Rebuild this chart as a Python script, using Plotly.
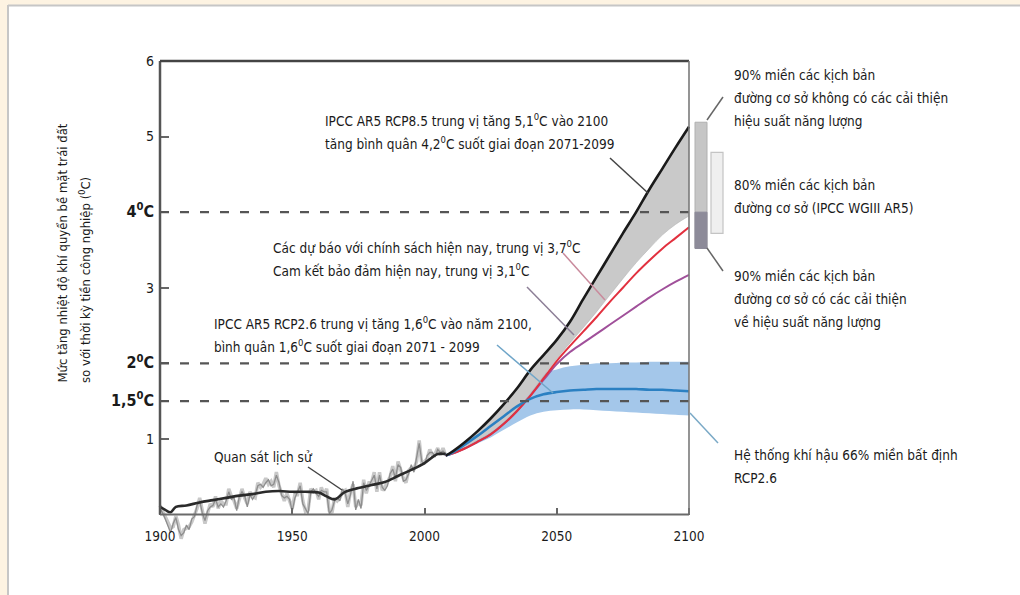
import plotly.graph_objects as go

FONT = "DejaVu Sans Condensed, DejaVu Sans, sans-serif"

# ---------------- data ----------------
hist_years = list(range(1900, 2009))
obs_a = [
    0.08, 0.02, -0.06, -0.14, -0.24, -0.12, -0.04, -0.20, -0.28, -0.24,
    -0.14, -0.20, -0.06, -0.03, 0.12, 0.18, 0.02, -0.08, 0.05, 0.10,
    0.12, 0.20, 0.10, 0.14, 0.10, 0.18, 0.30, 0.20, 0.22, 0.05,
    0.24, 0.30, 0.25, 0.10, 0.26, 0.20, 0.26, 0.38, 0.40, 0.36,
    0.42, 0.46, 0.38, 0.40, 0.52, 0.42, 0.25, 0.22, 0.24, 0.20,
    0.04, 0.22, 0.30, 0.38, 0.14, 0.08, 0.01, 0.30, 0.34, 0.28,
    0.24, 0.32, 0.30, 0.30, 0.01, 0.06, 0.18, 0.22, 0.18, 0.34,
    0.28, 0.14, 0.26, 0.44, 0.06, 0.20, 0.08, 0.42, 0.32, 0.38,
    0.46, 0.52, 0.34, 0.52, 0.36, 0.32, 0.38, 0.54, 0.60, 0.48,
    0.66, 0.62, 0.44, 0.46, 0.54, 0.66, 0.56, 0.74, 0.94, 0.70,
    0.66, 0.78, 0.82, 0.82, 0.76, 0.86, 0.82, 0.84, 0.80,
]
obs_b = [
    0.12, 0.05, -0.02, -0.10, -0.18, -0.16, -0.02, -0.14, -0.32, -0.20,
    -0.18, -0.16, -0.10, 0.00, 0.08, 0.22, 0.05, -0.12, 0.02, 0.14,
    0.10, 0.24, 0.08, 0.18, 0.14, 0.14, 0.34, 0.24, 0.18, 0.08,
    0.20, 0.34, 0.22, 0.14, 0.30, 0.24, 0.22, 0.42, 0.36, 0.40,
    0.48, 0.40, 0.44, 0.36, 0.56, 0.38, 0.28, 0.18, 0.28, 0.16,
    0.08, 0.26, 0.26, 0.42, 0.18, 0.04, 0.06, 0.34, 0.30, 0.32,
    0.20, 0.36, 0.26, 0.34, 0.05, 0.02, 0.22, 0.18, 0.22, 0.30,
    0.32, 0.10, 0.30, 0.40, 0.10, 0.16, 0.12, 0.46, 0.28, 0.42,
    0.42, 0.56, 0.30, 0.56, 0.32, 0.36, 0.42, 0.50, 0.64, 0.44,
    0.70, 0.58, 0.48, 0.42, 0.58, 0.62, 0.60, 0.70, 0.98, 0.66,
    0.70, 0.74, 0.86, 0.78, 0.80, 0.88, 0.78, 0.88, 0.78,
]
smooth_years = [1900, 1902, 1904, 1906, 1910, 1915, 1920, 1925, 1930, 1935, 1940, 1945,
                1950, 1955, 1960, 1963, 1966, 1970, 1975, 1980, 1985, 1990, 1995, 2000,
                2005, 2008]
smooth_vals = [0.10, 0.06, 0.03, 0.10, 0.12, 0.16, 0.19, 0.22, 0.25, 0.27, 0.30, 0.31,
               0.30, 0.30, 0.29, 0.24, 0.20, 0.30, 0.35, 0.39, 0.43, 0.51, 0.59, 0.68,
               0.80, 0.80]

proj_years = [2008, 2010, 2015, 2020, 2025, 2030, 2035, 2040, 2045, 2050,
              2055, 2060, 2065, 2070, 2075, 2080, 2085, 2090, 2095, 2100]
rcp85_median = [0.78, 0.82, 0.95, 1.10, 1.27, 1.46, 1.67, 1.91, 2.11, 2.31,
                2.55, 2.85, 3.14, 3.43, 3.72, 4.00, 4.30, 4.58, 4.86, 5.13]
rcp85_band_low = [0.78, 0.80, 0.88, 0.98, 1.08, 1.22, 1.39, 1.60, 1.83, 2.06,
                  2.27, 2.47, 2.68, 2.90, 3.12, 3.33, 3.52, 3.70, 3.84, 3.95]
current_policy = [0.78, 0.80, 0.87, 0.96, 1.06, 1.20, 1.37, 1.57, 1.80, 2.03,
                  2.23, 2.42, 2.61, 2.81, 3.00, 3.19, 3.36, 3.52, 3.66, 3.80]
pledges = [0.78, 0.80, 0.87, 0.96, 1.06, 1.20, 1.37, 1.57, 1.78, 1.99,
           2.15, 2.27, 2.39, 2.51, 2.63, 2.75, 2.87, 2.98, 3.08, 3.17]
rcp26_median = [0.78, 0.81, 0.92, 1.04, 1.17, 1.30, 1.43, 1.53, 1.59, 1.62,
                1.64, 1.65, 1.66, 1.66, 1.66, 1.66, 1.65, 1.65, 1.64, 1.63]
rcp26_upper = [0.78, 0.82, 0.96, 1.10, 1.26, 1.44, 1.62, 1.78, 1.87, 1.92,
               1.96, 1.98, 2.00, 2.00, 2.01, 2.01, 2.02, 2.02, 2.02, 2.02]
rcp26_lower = [0.78, 0.79, 0.86, 0.94, 1.02, 1.12, 1.22, 1.31, 1.36, 1.38,
               1.39, 1.39, 1.38, 1.37, 1.36, 1.35, 1.34, 1.33, 1.32, 1.31]

x_ticks = [1900, 1950, 2000, 2050, 2100]
y_ticks = [1, 1.5, 2, 3, 4, 5, 6]
threshold_levels = [4, 2, 1.5]
baseline_no_eff = [3.52, 5.19]   # 90% range, no efficiency improvements
baseline_eff = [3.52, 4.00]      # 90% range, with efficiency improvements
baseline_wg3 = [3.72, 4.79]      # 80% range IPCC WGIII AR5


def big(s):
    return "<span style='font-size:16px'><b>" + s + "</b></span>"


y_ticktext = ["1", big("1,5<sup>0</sup>C"), big("2<sup>0</sup>C"), "3",
              big("4<sup>0</sup>C"), "5", "6"]

# ---------------- geometry (pixel mapping) ----------------
W, H = 1020, 595
PX_1900, PX_2100 = 160, 689
PY_0, PY_6 = 514.5, 61
PXY = (PX_2100 - PX_1900) / 200.0
PYD = (PY_0 - PY_6) / 6.0
PL, PR, PT, PB = 154, 1012, 56, 556


def dx(px):
    return 1900 + (px - PX_1900) / PXY


def dy(py):
    return (PY_0 - py) / PYD


def paper_x(px):
    return (px - PL) / (PR - PL)


def paper_y(py):
    return (PB - py) / (PB - PT)


fig = go.Figure()

# historical observations
fig.add_trace(go.Scatter(x=hist_years, y=obs_b, mode="lines",
                         line=dict(color="#c8c8c8", width=3.5), hoverinfo="skip"))
fig.add_trace(go.Scatter(x=hist_years, y=obs_a, mode="lines",
                         line=dict(color="#8e8e8e", width=1.3), hoverinfo="skip"))
fig.add_trace(go.Scatter(x=smooth_years, y=smooth_vals, mode="lines",
                         line=dict(color="#2a2a2a", width=2.6, shape="spline"),
                         hoverinfo="skip"))

# RCP2.6 band
fig.add_trace(go.Scatter(x=proj_years, y=rcp26_lower, mode="lines",
                         line=dict(width=0, shape="spline"), hoverinfo="skip"))
fig.add_trace(go.Scatter(x=proj_years, y=rcp26_upper, mode="lines", fill="tonexty",
                         fillcolor="#a4c7ea", line=dict(width=0, shape="spline"),
                         hoverinfo="skip"))
# RCP8.5 grey band
fig.add_trace(go.Scatter(x=proj_years, y=rcp85_band_low, mode="lines",
                         line=dict(width=0.6, color="#b4b4b4", shape="spline"),
                         hoverinfo="skip"))
fig.add_trace(go.Scatter(x=proj_years, y=rcp85_median, mode="lines", fill="tonexty",
                         fillcolor="#c9c9c9", line=dict(width=0, shape="spline"),
                         hoverinfo="skip"))
# lines
fig.add_trace(go.Scatter(x=proj_years, y=pledges, mode="lines",
                         line=dict(color="#a0509a", width=2, shape="spline"), hoverinfo="skip"))
fig.add_trace(go.Scatter(x=proj_years, y=current_policy, mode="lines",
                         line=dict(color="#e2313f", width=2, shape="spline"), hoverinfo="skip"))
fig.add_trace(go.Scatter(x=proj_years, y=rcp26_median, mode="lines",
                         line=dict(color="#2b80c2", width=2.6, shape="spline"), hoverinfo="skip"))
fig.add_trace(go.Scatter(x=proj_years, y=rcp85_median, mode="lines",
                         line=dict(color="#1a1a1a", width=2.6, shape="spline"), hoverinfo="skip"))

shapes = []
# background: cream page with white card
shapes.append(dict(type="rect", xref="paper", yref="paper", layer="below",
                   x0=paper_x(8), x1=paper_x(1020), y0=paper_y(595), y1=paper_y(5),
                   fillcolor="white", line=dict(width=0)))
shapes.append(dict(type="line", xref="paper", yref="paper", layer="below",
                   x0=paper_x(8), x1=paper_x(1020), y0=paper_y(5.5), y1=paper_y(5.5),
                   line=dict(color="#c6c6c6", width=2)))
shapes.append(dict(type="line", xref="paper", yref="paper", layer="below",
                   x0=paper_x(8), x1=paper_x(8), y0=paper_y(595), y1=paper_y(5),
                   line=dict(color="#c6c6c6", width=2)))

# threshold dashed lines
for lv in threshold_levels:
    shapes.append(dict(type="line", xref="x", yref="y", x0=1900, x1=2100, y0=lv, y1=lv,
                       line=dict(color="#555555", width=2.2, dash="9px,11px"),
                       layer="above"))
# frame
shapes.append(dict(type="line", xref="x", yref="y", x0=1900, x1=1900, y0=0, y1=6,
                   line=dict(color="#555555", width=2.5), layer="above"))
shapes.append(dict(type="line", xref="x", yref="y", x0=1900, x1=2100, y0=6, y1=6,
                   line=dict(color="#444444", width=2.5), layer="above"))
shapes.append(dict(type="line", xref="x", yref="y", x0=2100, x1=2100, y0=0, y1=6,
                   line=dict(color="#7a7a7a", width=1.6), layer="above"))
shapes.append(dict(type="line", xref="x", yref="y", x0=1900, x1=2100, y0=0, y1=0,
                   line=dict(color="#6a6a6a", width=2), layer="above"))

# baseline range bars on the right
shapes.append(dict(type="rect", xref="x", yref="y", x0=dx(695), x1=dx(707),
                   y0=baseline_no_eff[0], y1=baseline_no_eff[1],
                   fillcolor="#c6c6c6", line=dict(color="#b0b0b0", width=1)))
shapes.append(dict(type="rect", xref="x", yref="y", x0=dx(695), x1=dx(707),
                   y0=baseline_eff[0], y1=baseline_eff[1],
                   fillcolor="#8d8b99", line=dict(color="#8d8b99", width=1)))
shapes.append(dict(type="rect", xref="x", yref="y", x0=dx(711), x1=dx(723),
                   y0=baseline_wg3[0], y1=baseline_wg3[1],
                   fillcolor="#efefef", line=dict(color="#c4c4c4", width=1.2)))

# leader lines
leaders = [
    ((610, 158), (648, 193), "#444444"),
    ((563, 253), (605, 300), "#c98a9c"),
    ((527, 287), (574, 335), "#8c7e96"),
    ((497, 345), (553, 393), "#6fa5c8"),
    ((308, 467), (342, 490), "#444444"),
    ((707, 120), (723, 97), "#666666"),
    ((707, 248), (723, 271), "#666666"),
    ((690, 413), (718, 443), "#7aa9c6"),
]
for (a, b, c) in leaders:
    shapes.append(dict(type="line", xref="x", yref="y", x0=dx(a[0]), y0=dy(a[1]),
                       x1=dx(b[0]), y1=dy(b[1]), line=dict(color=c, width=1.5),
                       layer="above"))

annotations = []
TXT = dict(family=FONT, size=13.5, color="#1a1a1a")


def block(px, py, lines, step=23):
    for i, s in enumerate(lines):
        annotations.append(dict(xref="x", yref="y", x=dx(px), y=dy(py + i * step),
                                text=s, showarrow=False, xanchor="left",
                                yanchor="middle", font=TXT))


block(323, 120, ["IPCC AR5 RCP8.5 trung vị tăng 5,1<sup>0</sup>C vào 2100",
                 "tăng bình quân 4,2<sup>0</sup>C suốt giai đoạn 2071-2099"])
block(271, 247, ["Các dự báo với chính sách hiện nay, trung vị 3,7<sup>0</sup>C",
                 "Cam kết bảo đảm hiện nay, trung vị 3,1<sup>0</sup>C"])
block(212, 323, ["IPCC AR5 RCP2.6 trung vị tăng 1,6<sup>0</sup>C vào năm 2100,",
                 "bình quân 1,6<sup>0</sup>C suốt giai đoạn 2071 - 2099"])
block(212, 457, ["Quan sát lịch sử"])
block(732, 75, ["90% miền các kịch bản",
                "đường cơ sở không có các cải thiện",
                "hiệu suất năng lượng"])
block(732, 185, ["80% miền các kịch bản",
                 "đường cơ sở (IPCC WGIII AR5)"])
block(732, 276, ["90% miền các kịch bản",
                 "đường cơ sở có các cải thiện",
                 "về hiệu suất năng lượng"])
block(732, 455, ["Hệ thống khí hậu 66% miền bất định",
                 "RCP2.6"])

# y-axis title (two rotated lines, start-aligned at the bottom)
for px, s in [(62, "Mức tăng nhiệt độ khí quyển bề mặt trái đất"),
              (85, "so với thời kỳ tiền công nghiệp (<sup>0</sup>C)")]:
    annotations.append(dict(xref="paper", yref="paper", x=paper_x(px), y=paper_y(385),
                            text=s, textangle=-90, showarrow=False,
                            xanchor="center", yanchor="bottom",
                            font=dict(family=FONT, size=13, color="#1a1a1a")))

fig.update_layout(
    width=W, height=H,
    margin=dict(l=PL, r=W - PR, t=PT, b=H - PB, pad=0),
    paper_bgcolor="#fdf3e2",
    plot_bgcolor="rgba(0,0,0,0)",
    showlegend=False,
    shapes=shapes,
    annotations=annotations,
    font=dict(family=FONT, size=13, color="#1a1a1a"),
    xaxis=dict(range=[dx(PL), dx(PR)], tickvals=x_ticks,
               ticktext=[str(v) for v in x_ticks],
               ticks="inside", ticklen=7, tickwidth=2, tickcolor="#666666",
               showgrid=False, zeroline=False, showline=False,
               anchor="free", position=paper_y(PY_0),
               tickfont=dict(family=FONT, size=13.5, color="#1a1a1a"),
               ticklabelstandoff=12),
    yaxis=dict(range=[dy(PB), dy(PT)], tickvals=y_ticks, ticktext=y_ticktext,
               ticks="inside", ticklen=8, tickwidth=2, tickcolor="#666666",
               showgrid=False, zeroline=False, showline=False,
               anchor="free", position=paper_x(PX_1900),
               tickfont=dict(family=FONT, size=14, color="#1a1a1a"),
               ticklabelstandoff=6),
)

fig.write_html(
    "out.html",
    config={"displayModeBar": False},
    post_script="document.body.style.margin='0';document.body.style.padding='0';"
                "document.body.style.overflow='hidden';",
)
